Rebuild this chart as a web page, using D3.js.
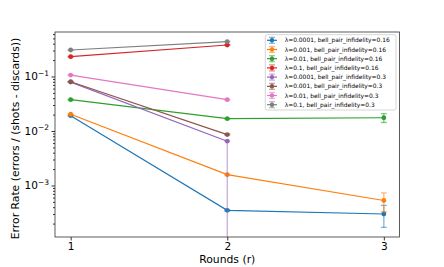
<!DOCTYPE html>
<html>
<head>
<meta charset="utf-8">
<script src="https://cdn.jsdelivr.net/npm/d3@7"></script>
<style>
  body { margin: 0; background: #fff; }
  svg { display: block; font-family: "DejaVu Sans", sans-serif; }
</style>
</head>
<body>
<div class="chart"></div>
<script>
// chart data
var rounds = [1, 2, 3];
var labels = [
  "λ=0.0001, bell_pair_infidelity=0.16",
  "λ=0.001, bell_pair_infidelity=0.16",
  "λ=0.01, bell_pair_infidelity=0.16",
  "λ=0.1, bell_pair_infidelity=0.16",
  "λ=0.0001, bell_pair_infidelity=0.3",
  "λ=0.001, bell_pair_infidelity=0.3",
  "λ=0.01, bell_pair_infidelity=0.3",
  "λ=0.1, bell_pair_infidelity=0.3"
];
var colors = ["#1f77b4", "#ff7f0e", "#2ca02c", "#d62728", "#9467bd", "#8c564b", "#e377c2", "#7f7f7f"];
var errorRates = [
  [0.0191, 0.00035, 0.00030],
  [0.0203, 0.00158, 0.00053],
  [0.0375, 0.0168, 0.0175],
  [0.231, 0.378],
  [0.079, 0.0065],
  [0.080, 0.0086],
  [0.106, 0.0375],
  [0.306, 0.436]
];
var errLow = [
  [0.0003, 0.00001, 0.00013],
  [0.0003, 0.00003, 0.0002],
  [0.0005, 0.0003, 0.0032],
  [0.003, 0.004],
  [0.001, 0.0065],
  [0.001, 0.0002],
  [0.001, 0.0005],
  [0.003, 0.004]
];
var errHigh = [
  [0.0003, 0.00001, 0.00013],
  [0.0003, 0.00003, 0.0002],
  [0.0005, 0.0003, 0.0034],
  [0.003, 0.004],
  [0.001, 0.0001],
  [0.001, 0.0002],
  [0.001, 0.0005],
  [0.003, 0.004]
];
var yMajorTicks = [1e-1, 1e-2, 1e-3];
var yTickExps = ["−1", "−2", "−3"];

var svgWidth = 444;
var svgHeight = 267;
var margin = { top: 32, right: 44.5, bottom: 30, left: 55 };
var width = svgWidth - margin.left - margin.right;
var height = svgHeight - margin.top - margin.bottom;

var svg = d3.select(".chart")
  .append("svg")
  .attr("width", svgWidth)
  .attr("height", svgHeight);

var chartGroup = svg.append("g")
  .attr("transform", `translate(${margin.left}, ${margin.top})`);

var xScale = d3.scaleLinear().domain([0.9, 3.1]).range([0, width]);
var yScale = d3.scaleLog().domain([1.135e-4, 0.655]).range([height, 0]);

// clip
chartGroup.append("clipPath").attr("id", "clip")
  .append("rect").attr("width", width).attr("height", height);

// x axis
var bottomAxis = d3.axisBottom(xScale).tickValues(rounds).tickFormat(d3.format("d"))
  .tickSize(3.5).tickPadding(2.5);
var xAxisG = chartGroup.append("g")
  .attr("transform", `translate(0, ${height})`)
  .call(bottomAxis);
xAxisG.select(".domain").remove();
xAxisG.selectAll("text").attr("font-size", "10.5px").attr("fill", "#000")
  .attr("font-family", "DejaVu Sans");

// y axis, minor ticks
var minorTicks = [];
for (var e = -4; e <= 0; e++) {
  for (var k = 2; k <= 9; k++) {
    var v = k * Math.pow(10, e);
    if (v >= yScale.domain()[0] && v <= yScale.domain()[1]) minorTicks.push(v);
  }
}
var minorAxis = d3.axisLeft(yScale).tickValues(minorTicks).tickFormat("").tickSize(2);
var minorG = chartGroup.append("g").call(minorAxis);
minorG.select(".domain").remove();

var leftAxis = d3.axisLeft(yScale).tickValues(yMajorTicks).tickFormat("").tickSize(3.5);
var yAxisG = chartGroup.append("g").call(leftAxis);
yAxisG.select(".domain").remove();
chartGroup.selectAll(".tick line").attr("stroke", "#000").attr("stroke-width", 0.8);

yMajorTicks.forEach(function (t, i) {
  var txt = chartGroup.append("text")
    .attr("x", -6)
    .attr("y", yScale(t) + 4)
    .attr("text-anchor", "end")
    .attr("font-size", "10.5px");
  txt.append("tspan").text("10");
  txt.append("tspan").attr("dy", -4.5).attr("font-size", "7.5px").text(yTickExps[i]);
});

// series
var plotG = chartGroup.append("g").attr("clip-path", "url(#clip)");
errorRates.forEach(function (vals, s) {
  var pts = vals.map(function (v, i) {
    return { x: rounds[i], y: v, lo: v - errLow[s][i], hi: v + errHigh[s][i] };
  });
  var line = d3.line().x(d => xScale(d.x)).y(d => yScale(d.y));
  plotG.append("path")
    .datum(pts)
    .attr("fill", "none")
    .attr("stroke", colors[s])
    .attr("stroke-width", 1.2)
    .attr("d", line);

  var eb = plotG.append("g").attr("stroke", colors[s]).attr("stroke-opacity", 0.55)
    .attr("stroke-width", 1.3);
  pts.forEach(function (d) {
    var yLo = d.lo > 0 ? yScale(d.lo) : height + 10;
    var yHi = yScale(d.hi);
    var cx = xScale(d.x);
    eb.append("line").attr("x1", cx).attr("x2", cx).attr("y1", yLo).attr("y2", yHi);
    eb.append("line").attr("x1", cx - 3).attr("x2", cx + 3).attr("y1", yHi).attr("y2", yHi);
    if (d.lo > 0) eb.append("line").attr("x1", cx - 3).attr("x2", cx + 3).attr("y1", yLo).attr("y2", yLo);
  });

  plotG.selectAll(null).data(pts).enter()
    .append("circle")
    .attr("cx", d => xScale(d.x))
    .attr("cy", d => yScale(d.y))
    .attr("r", 2.4)
    .attr("fill", colors[s]);
});

// frame
chartGroup.append("rect")
  .attr("width", width).attr("height", height)
  .attr("fill", "none").attr("stroke", "#333").attr("stroke-width", 0.8);

// legend
var legend = chartGroup.append("g").attr("transform", "translate(210.3, 2.7)");
legend.append("rect")
  .attr("width", 130.7).attr("height", 75.3)
  .attr("rx", 2).attr("ry", 2)
  .attr("fill", "#fff").attr("fill-opacity", 0.8)
  .attr("stroke", "#ccc").attr("stroke-width", 0.8);
labels.forEach(function (lab, i) {
  var yy = 5.6 + i * 9.2;
  var g = legend.append("g").attr("transform", `translate(0, ${yy})`);
  g.append("line").attr("x1", 1.7).attr("x2", 11.7).attr("y1", 0).attr("y2", 0)
    .attr("stroke", colors[i]).attr("stroke-width", 1.2);
  var eg = g.append("g").attr("stroke", colors[i]).attr("stroke-opacity", 0.55).attr("stroke-width", 1.2);
  eg.append("line").attr("x1", 6.7).attr("x2", 6.7).attr("y1", -3).attr("y2", 3);
  eg.append("line").attr("x1", 3.7).attr("x2", 9.7).attr("y1", -3).attr("y2", -3);
  eg.append("line").attr("x1", 3.7).attr("x2", 9.7).attr("y1", 3).attr("y2", 3);
  g.append("circle").attr("cx", 6.7).attr("cy", 0).attr("r", 2.2).attr("fill", colors[i]);
  g.append("text").attr("x", 19.4).attr("y", 2.1)
    .attr("font-size", "5.95px").attr("fill", "#000").text(lab);
});

// axes labels
chartGroup.append("text")
  .attr("transform", "rotate(-90)")
  .attr("x", -(height / 2) - 4)
  .attr("y", -margin.left + 19)
  .attr("text-anchor", "middle")
  .attr("font-size", "10.8px")
  .text("Error Rate (errors / (shots - discards))");

chartGroup.append("text")
  .attr("x", xScale(2))
  .attr("y", height + 26)
  .attr("text-anchor", "middle")
  .attr("font-size", "10.8px")
  .text("Rounds (r)");
</script>
</body>
</html>
